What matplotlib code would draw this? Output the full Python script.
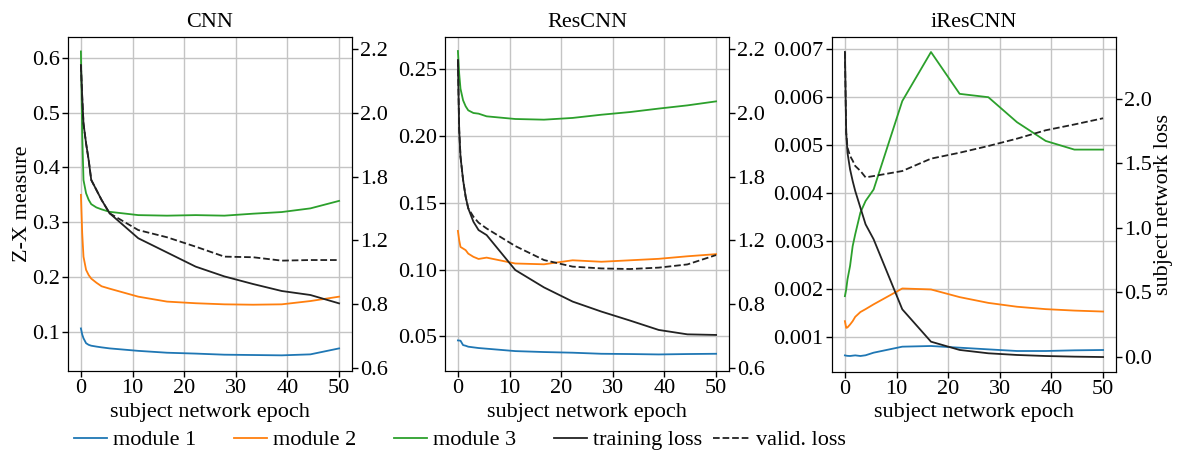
import matplotlib
matplotlib.use('Agg')
import matplotlib.pyplot as plt
from matplotlib.lines import Line2D

plt.rcParams['font.family'] = ['Liberation Serif', 'DejaVu Serif']
plt.rcParams['font.size'] = 16

# epochs at which the values were logged
epochs = [0, 0.25, 0.5, 1, 1.5, 2, 3, 4, 5.56, 11.11, 16.67, 22.22, 27.78, 33.33, 38.89, 44.44, 50]

# CNN
cnn_m1 = [0.106, 0.095, 0.088, 0.079, 0.076, 0.0744, 0.0728, 0.0714, 0.0695, 0.065, 0.0616, 0.060, 0.058, 0.0574, 0.0568, 0.0586, 0.0695]
cnn_m2 = [0.35, 0.28, 0.237, 0.213, 0.2035, 0.197, 0.1895, 0.183, 0.1786, 0.164, 0.155, 0.152, 0.150, 0.1493, 0.150, 0.156, 0.164]
cnn_m3 = [0.612, 0.462, 0.377, 0.353, 0.341, 0.333, 0.327, 0.3235, 0.319, 0.313, 0.312, 0.313, 0.312, 0.3156, 0.3186, 0.3253, 0.339]
cnn_train = [2.118, 1.96, 1.826, 1.726, 1.643, 1.543, 1.493, 1.443, 1.376, 1.251, 1.18, 1.109, 1.06, 1.022, 0.987, 0.967, 0.925]
cnn_valid = [2.118, 1.96, 1.826, 1.726, 1.643, 1.543, 1.493, 1.443, 1.376, 1.292, 1.256, 1.209, 1.159, 1.156, 1.139, 1.142, 1.142]

# ResCNN
res_m1 = [0.047, 0.0469, 0.0468, 0.0435, 0.043, 0.0423, 0.0418, 0.0413, 0.0408, 0.039, 0.0383, 0.0378, 0.037, 0.0368, 0.0365, 0.0368, 0.037]
res_m2 = [0.129, 0.122, 0.117, 0.1158, 0.1146, 0.112, 0.1096, 0.108, 0.109, 0.1046, 0.104, 0.107, 0.1059, 0.107, 0.1081, 0.110, 0.1116]
res_m3 = [0.2637, 0.2467, 0.2355, 0.2268, 0.2223, 0.2193, 0.2173, 0.2168, 0.2148, 0.2128, 0.2123, 0.2136, 0.216, 0.218, 0.2206, 0.223, 0.226]
res_train = [2.143, 1.793, 1.66, 1.543, 1.459, 1.401, 1.334, 1.292, 1.267, 1.092, 1.005, 0.934, 0.884, 0.839, 0.792, 0.770, 0.767]
res_valid = [2.143, 1.793, 1.66, 1.543, 1.459, 1.401, 1.359, 1.329, 1.30, 1.212, 1.142, 1.109, 1.10, 1.097, 1.104, 1.12, 1.167]

# iResCNN
ires_m1 = [0.000618, 0.000612, 0.000608, 0.000605, 0.000612, 0.000618, 0.000605, 0.00062, 0.000674, 0.000799, 0.000813, 0.000778, 0.000743, 0.000709, 0.000709, 0.000723, 0.00073]
ires_m2 = [0.00133, 0.00119, 0.0012, 0.00126, 0.00133, 0.00142, 0.00152, 0.00158, 0.00168, 0.00201, 0.00199, 0.00183, 0.00171, 0.00163, 0.00158, 0.00155, 0.00153]
ires_m3 = [0.00185, 0.00199, 0.0022, 0.00248, 0.00289, 0.00314, 0.00359, 0.00383, 0.00407, 0.00591, 0.00693, 0.00606, 0.00599, 0.00547, 0.00508, 0.0049, 0.0049]
ires_train = [2.362, 1.736, 1.58, 1.452, 1.362, 1.284, 1.155, 1.026, 0.91, 0.367, 0.116, 0.052, 0.026, 0.013, 0.005, 0.0, -0.003]
ires_valid = [2.362, 1.736, 1.62, 1.556, 1.52, 1.478, 1.44, 1.39, 1.40, 1.439, 1.535, 1.581, 1.633, 1.69, 1.755, 1.80, 1.848]

titles = ['CNN', 'ResCNN', 'iResCNN']
loss_ticks = [0.6, 0.92, 1.24, 1.56, 1.88, 2.2]
loss_ticklabels = ['0.6', '0.8', '1.2', '1.8', '2.0', '2.2']

panels = [
    (cnn_m1, cnn_m2, cnn_m3, cnn_train, cnn_valid),
    (res_m1, res_m2, res_m3, res_train, res_valid),
    (ires_m1, ires_m2, ires_m3, ires_train, ires_valid),
]
rects = [
    [68 / 1177, 83 / 454, 284 / 1177, 334 / 454],
    [445 / 1177, 83 / 454, 284 / 1177, 334 / 454],
    [832 / 1177, 82 / 454, 284 / 1177, 335 / 454],
]
left_lims = [(0.0282, 0.6384), (0.0241, 0.2742), (0.000272, 0.007243)]
right_lims = [(0.5865, 2.2585), (0.5865, 2.2585), (-0.119, 2.478)]
left_fmt = ['%.1f', '%.2f', '%.3f']

colors = ['#1f77b4', '#ff7f0e', '#2ca02c']
black = '#222222'

fig = plt.figure(figsize=(11.77, 4.54), dpi=100)

for i, (m1, m2, m3, train, valid) in enumerate(panels):
    ax = fig.add_axes(rects[i])
    ax.plot(epochs, m1, color=colors[0], lw=1.3)
    ax.plot(epochs, m2, color=colors[1], lw=1.3)
    ax.plot(epochs, m3, color=colors[2], lw=1.3)
    ax.set_xlim(-2.5, 52.5)
    ax.set_ylim(*left_lims[i])
    ax.set_xticks([0, 10, 20, 30, 40, 50])
    ax.yaxis.set_major_formatter(matplotlib.ticker.FormatStrFormatter(left_fmt[i]))
    ax.grid(color='#c4c4c4', lw=1)
    ax.set_axisbelow(True)
    ax.set_title(titles[i], fontsize=16, pad=7)
    ax.set_xlabel('subject network epoch', labelpad=3)
    ax.tick_params(length=4, width=1, pad=2)

    ax2 = ax.twinx()
    ax2.plot(epochs, train, color=black, lw=1.3)
    ax2.plot(epochs, valid, color=black, lw=1.3, ls='--')
    ax2.set_ylim(*right_lims[i])
    if i < 2:
        ax2.set_yticks(loss_ticks)
        ax2.set_yticklabels(loss_ticklabels)
    else:
        ax2.set_yticks([0.0, 0.5, 1.0, 1.5, 2.0])
        ax2.yaxis.set_major_formatter(matplotlib.ticker.FormatStrFormatter('%.1f'))
        ax2.set_ylabel('subject network loss', labelpad=1)
    ax2.tick_params(length=4, width=1, pad=2)
    if i == 0:
        ax.set_ylabel('Z-X measure', labelpad=0)

handles = [
    Line2D([], [], color=colors[0], lw=1.3),
    Line2D([], [], color=colors[1], lw=1.3),
    Line2D([], [], color=colors[2], lw=1.3),
    Line2D([], [], color=black, lw=1.3),
]
fig.legend(handles, ['module 1', 'module 2', 'module 3', 'training loss'],
           loc='center left', bbox_to_anchor=(74 / 1177, 1 - 440 / 454), ncol=4,
           frameon=False, borderpad=0, borderaxespad=0, handlelength=1.5,
           handletextpad=0.25, columnspacing=1.7, fontsize=16)
fig.legend([Line2D([], [], color=black, lw=1.3, ls='--')], ['valid. loss'],
           loc='center left', bbox_to_anchor=(713 / 1177, 1 - 440 / 454),
           frameon=False, borderpad=0, borderaxespad=0, handlelength=1.7,
           handletextpad=0.25, fontsize=16)

fig.savefig('out.png', dpi=100)
